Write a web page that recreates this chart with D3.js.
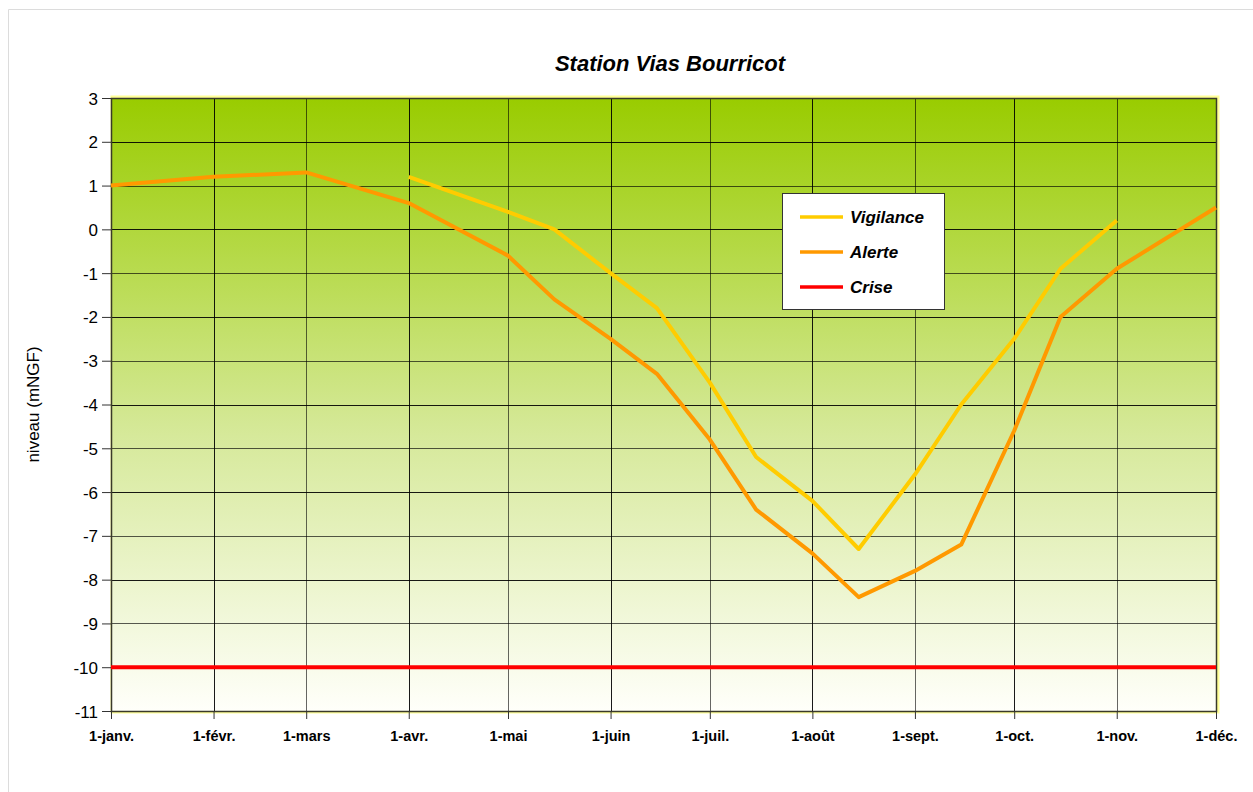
<!DOCTYPE html>
<html>
  <head>
    <meta charset="utf-8">
    <title>Station Vias Bourricot</title>
    <script src="https://d3js.org/d3.v7.min.js"></script>
    <style>
      body { margin: 0; background: #fff; }
      svg { font-family: Arial, "Liberation Sans", sans-serif; display: block; }
      .grid line { stroke: #000; stroke-width: 1px; }
      .axis .domain { display: none; }
      .axis .tick line { stroke: #333; }
      .axis--y .tick text { font-size: 17px; fill: #000; }
      .axis--x .tick text { font-size: 14.5px; font-weight: bold; fill: #000; }
      .legend text { font-size: 17px; font-weight: bold; font-style: italic; }
    </style>
  </head>
  <body>
    <svg width="1253" height="792"></svg>
    <script>
      const title = "Station Vias Bourricot";
      const yLabel = "niveau (mNGF)";
      const monthLabels = ["1-janv.", "1-févr.", "1-mars", "1-avr.", "1-mai", "1-juin",
        "1-juil.", "1-août", "1-sept.", "1-oct.", "1-nov.", "1-déc."];
      const yTicks = [3, 2, 1, 0, -1, -2, -3, -4, -5, -6, -7, -8, -9, -10, -11];

      // dates as "month-day"
      const vigilanceDates = ["4-1", "5-1", "5-15", "6-1", "6-15", "7-1", "7-15", "8-1", "8-15",
        "9-1", "9-15", "10-1", "10-15", "11-1"];
      const vigilanceValues = [1.2, 0.4, 0.0, -1.0, -1.8, -3.5, -5.2, -6.2, -7.3,
        -5.6, -4.0, -2.5, -0.9, 0.2];
      const alerteDates = ["1-1", "2-1", "3-1", "4-1", "5-1", "5-15", "6-1", "6-15", "7-1",
        "7-15", "8-1", "8-15", "9-1", "9-15", "10-1", "10-15", "11-1", "12-1"];
      const alerteValues = [1.0, 1.2, 1.3, 0.6, -0.6, -1.6, -2.5, -3.3, -4.8,
        -6.4, -7.4, -8.4, -7.8, -7.2, -4.6, -2.0, -0.9, 0.5];
      const criseDates = ["1-1", "12-1"];
      const criseValues = [-10, -10];

      const seriesNames = ["Vigilance", "Alerte", "Crise"];
      const seriesColors = ["#FFCC00", "#FF9900", "#FF0000"];

      const year = 2009;
      const toDate = s => {
        const [m, d] = s.split("-").map(Number);
        return new Date(year, m - 1, d);
      };
      const zip = (dates, values) => dates.map((d, i) => ({ date: toDate(d), value: values[i] }));
      const series = [
        zip(vigilanceDates, vigilanceValues),
        zip(alerteDates, alerteValues),
        zip(criseDates, criseValues)
      ];

      const svg = d3.select("svg");
      const margin = { top: 98, left: 111, right: 37, bottom: 81 };
      const width = +svg.attr("width");
      const height = +svg.attr("height");
      const innerWidth = width - margin.left - margin.right;
      const innerHeight = height - margin.top - margin.bottom;

      // outer frame (top and left edges visible)
      svg.append("path")
        .attr("d", `M8.5,${height} V9.5 H${width}`)
        .attr("fill", "none").attr("stroke", "#dcdcdc");

      svg.append("text")
        .attr("x", 670).attr("y", 71)
        .attr("text-anchor", "middle")
        .attr("font-size", "22px").attr("font-weight", "bold").attr("font-style", "italic")
        .text(title);

      const monthDates = d3.range(12).map(m => new Date(year, m, 1));
      const xScale = d3.scaleTime()
        .domain([monthDates[0], monthDates[11]])
        .range([0, innerWidth]);
      const yScale = d3.scaleLinear()
        .domain([-11, 3])
        .range([innerHeight, 0]);

      const defs = svg.append("defs");
      const grad = defs.append("linearGradient")
        .attr("id", "bg").attr("x1", 0).attr("y1", 0).attr("x2", 0).attr("y2", 1);
      grad.append("stop").attr("offset", "0%").attr("stop-color", "#99CC00");
      grad.append("stop").attr("offset", "55%").attr("stop-color", "#D6E99A");
      grad.append("stop").attr("offset", "100%").attr("stop-color", "#FFFFFA");

      const g = svg.append("g")
        .attr("transform", `translate(${margin.left}, ${margin.top})`);

      // plot area with pale yellow outer edge
      g.append("rect")
        .attr("x", 1).attr("y", -1)
        .attr("width", innerWidth + 1).attr("height", innerHeight + 2)
        .attr("fill", "none").attr("stroke", "#FFFF99").attr("stroke-width", 3);
      g.append("rect")
        .attr("width", innerWidth).attr("height", innerHeight)
        .attr("fill", "url(#bg)");

      // grid
      const grid = g.append("g").attr("class", "grid");
      grid.selectAll(".h").data(yTicks).join("line")
        .attr("x1", 0).attr("x2", innerWidth)
        .attr("y1", d => Math.round(yScale(d)) + 0.5)
        .attr("y2", d => Math.round(yScale(d)) + 0.5)
        .attr("stroke-opacity", (d, i) => i % 2 ? 0.9 : 0.65);
      grid.selectAll(".v").data(monthDates).join("line")
        .attr("y1", 0).attr("y2", innerHeight)
        .attr("x1", d => Math.round(xScale(d)) + 0.5)
        .attr("x2", d => Math.round(xScale(d)) + 0.5)
        .attr("stroke-opacity", (d, i) => i % 2 ? 0.9 : 0.6);

      // frame
      g.append("rect")
        .attr("x", 0.5).attr("y", 0.5)
        .attr("width", innerWidth).attr("height", innerHeight)
        .attr("fill", "none").attr("stroke", "#3a3a2a").attr("stroke-width", 1.5);

      const yAxis = d3.axisLeft(yScale)
        .tickValues(yTicks)
        .tickSize(9)
        .tickPadding(4)
        .tickFormat(d3.format("d"));
      g.append("g").attr("class", "axis axis--y").call(yAxis)
        .selectAll(".tick text")
          .attr("dy", null)
          .attr("y", 6)
          .text(d => d < 0 ? "-" + Math.abs(d) : d);

      const xAxis = d3.axisBottom(xScale)
        .tickValues(monthDates)
        .tickSize(8)
        .tickPadding(12)
        .tickFormat((d, i) => monthLabels[i]);
      g.append("g").attr("class", "axis axis--x")
        .attr("transform", `translate(0, ${innerHeight})`)
        .call(xAxis)
        .selectAll(".tick text")
          .attr("dy", null)
          .attr("y", 30);

      svg.append("text")
        .attr("transform", `translate(39, ${margin.top + innerHeight / 2}) rotate(-90)`)
        .attr("text-anchor", "middle")
        .attr("font-size", "17px")
        .text(yLabel);

      const line = d3.line()
        .x(d => xScale(d.date))
        .y(d => yScale(d.value));

      g.selectAll(".series").data(series).join("path")
        .attr("class", "series")
        .attr("d", line)
        .attr("fill", "none")
        .attr("stroke", (d, i) => seriesColors[i])
        .attr("stroke-width", 4)
        .attr("stroke-linejoin", "round");

      // legend
      const legend = svg.append("g").attr("class", "legend")
        .attr("transform", "translate(782, 193)");
      legend.append("rect")
        .attr("x", 0.5).attr("y", 0.5)
        .attr("width", 162).attr("height", 116)
        .attr("fill", "#fff").attr("stroke", "#333");
      const item = legend.selectAll(".item").data(seriesNames).join("g")
        .attr("class", "item")
        .attr("transform", (d, i) => `translate(0, ${24 + i * 35})`);
      item.append("line")
        .attr("x1", 18).attr("x2", 61)
        .attr("stroke", (d, i) => seriesColors[i])
        .attr("stroke-width", 3.5);
      item.append("text")
        .attr("x", 68).attr("y", 6)
        .text(d => d);
    </script>
  </body>
</html>
